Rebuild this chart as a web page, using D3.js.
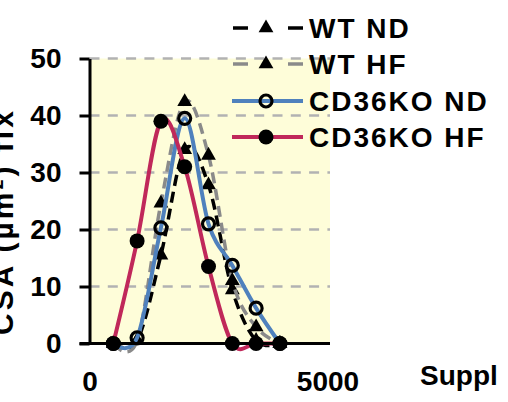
<!DOCTYPE html>
<html>
<head>
<meta charset="utf-8">
<script src="https://cdn.jsdelivr.net/npm/d3@7"></script>
<style>
  body { margin: 0; background: #fff; }
  text { font-family: "Liberation Sans", Arial, sans-serif; font-weight: bold; fill: #000; }
</style>
</head>
<body>
<div id="chart"></div>
<script>
// values
const sizes = [500, 1000, 1500, 2000, 2500, 3000, 3500, 4000]
const wtND = [0, 0.5, 15.5, 34, 27.8, 9.4, 0.5, 0]
const wtHF = [0, 0.5, 24.6, 42.4, 33, 11, 2.9, 0]
const koND = [0, 1, 20.3, 39.5, 21, 13.7, 6.2, 0]
const koHF = [0, 18, 39, 31, 13.5, 0, 0, 0]
const seriesNames = ["WT ND", "WT HF", "CD36KO ND", "CD36KO HF"]
const yTicks = [0, 10, 20, 30, 40, 50]
const xTicks = [0, 5000]
const xTitle = "Suppl"
const yTitle = "CSA (µm²) fix"

const svg = d3.select("#chart").append("svg")
    .attr("width", 508)
    .attr("height", 402)

const x = d3.scaleLinear().domain([0, 5000]).range([89.5, 327.5])
const y = d3.scaleLinear().domain([0, 50]).range([343.5, 58.5])
const plotRight = 330

// plot background
svg.append("rect")
    .attr("x", x(0))
    .attr("y", y(50))
    .attr("width", plotRight - x(0))
    .attr("height", y(0) - y(50))
    .attr("fill", "#fefdd9")

// gridlines
svg.append("g").selectAll("line")
    .data(yTicks.filter(d => d > 0))
    .join("line")
    .attr("x1", x(0))
    .attr("x2", plotRight)
    .attr("y1", d => y(d))
    .attr("y2", d => y(d))
    .attr("stroke", "#b2b2b2")
    .attr("stroke-width", 2.5)
    .attr("stroke-dasharray", "10,8.3")

const styles = [
    { stroke: "#000", dash: "11,6", width: 3.5, marker: "tri" },
    { stroke: "#8a8a8a", dash: "11,6", width: 3.5, marker: "tri" },
    { stroke: "#4f81bd", dash: null, width: 4, marker: "ring" },
    { stroke: "#c0285a", dash: null, width: 4, marker: "dot" },
]
const allValues = [wtND, wtHF, koND, koHF]

const line = d3.line()
    .x(d => x(d[0]))
    .y(d => y(d[1]))
    .curve(d3.curveCatmullRom.alpha(0))

const tri = d3.symbol().type(d3.symbolTriangle).size(95)

function drawMarker(g, kind, cx, cy) {
    if (kind === "tri") {
        g.append("path")
            .attr("d", tri())
            .attr("transform", `translate(${cx},${cy})`)
            .attr("fill", "#000")
    } else if (kind === "ring") {
        g.append("circle")
            .attr("cx", cx).attr("cy", cy).attr("r", 6)
            .attr("fill", "none")
            .attr("stroke", "#000")
            .attr("stroke-width", 3.2)
    } else {
        g.append("circle")
            .attr("cx", cx).attr("cy", cy).attr("r", 7.5)
            .attr("fill", "#000")
    }
}

allValues.forEach((vals, i) => {
    const st = styles[i]
    const pts = sizes.map((s, j) => [s, vals[j]])
    const g = svg.append("g")
    g.append("path")
        .attr("d", line(pts))
        .attr("fill", "none")
        .attr("stroke", st.stroke)
        .attr("stroke-width", st.width)
        .attr("stroke-dasharray", st.dash)
    pts.forEach(p => drawMarker(g, st.marker, x(p[0]), y(p[1])))
})

// y axis
const yAxis = svg.append("g")
    .attr("transform", `translate(${x(0)},0)`)
    .call(d3.axisLeft(y).tickValues(yTicks).tickSize(10).tickSizeOuter(0).tickPadding(18))
yAxis.select(".domain").attr("stroke", "#000").attr("stroke-width", 3)
yAxis.selectAll(".tick line").attr("stroke", "#000").attr("stroke-width", 3)
yAxis.selectAll(".tick text")
    .style("font-size", "28px")
    .style("font-family", "'Liberation Sans', Arial, sans-serif")
    .style("font-weight", "bold")
    .attr("fill", "#000")

// x axis
const xAxis = svg.append("g")
    .attr("transform", `translate(0,${y(0)})`)
    .call(d3.axisBottom(x).tickValues(xTicks).tickSize(0).tickPadding(28).tickFormat(d3.format("d")))
xAxis.select(".domain").remove()
xAxis.selectAll(".tick text")
    .style("font-size", "28px")
    .style("font-family", "'Liberation Sans', Arial, sans-serif")
    .style("font-weight", "bold")
    .attr("fill", "#000")
svg.append("line")
    .attr("x1", x(0) - 10)
    .attr("x2", plotRight)
    .attr("y1", y(0))
    .attr("y2", y(0))
    .attr("stroke", "#000")
    .attr("stroke-width", 3)

// axis titles
svg.append("text")
    .attr("x", 420)
    .attr("y", 385)
    .style("font-size", "28px")
    .text(xTitle)

svg.append("text")
    .attr("transform", "translate(13,335) rotate(-90)")
    .style("font-size", "30px")
    .style("letter-spacing", "3px")
    .text(yTitle)

// legend
const legendY = [28, 64, 101, 137]
seriesNames.forEach((name, i) => {
    const st = styles[i]
    const g = svg.append("g")
    const ly = legendY[i]
    if (st.dash) {
        g.append("line").attr("x1", 233).attr("x2", 248).attr("y1", ly).attr("y2", ly)
            .attr("stroke", st.stroke).attr("stroke-width", st.width)
        g.append("line").attr("x1", 288).attr("x2", 303).attr("y1", ly).attr("y2", ly)
            .attr("stroke", st.stroke).attr("stroke-width", st.width)
    } else {
        g.append("line").attr("x1", 232).attr("x2", 303).attr("y1", ly).attr("y2", ly)
            .attr("stroke", st.stroke).attr("stroke-width", st.width)
    }
    drawMarker(g, st.marker, 266, ly)
    g.append("text")
        .attr("x", 309)
        .attr("y", ly)
        .attr("dy", "0.36em")
        .style("font-size", "28px")
        .style("letter-spacing", "2px")
        .text(name)
})
</script>
</body>
</html>
